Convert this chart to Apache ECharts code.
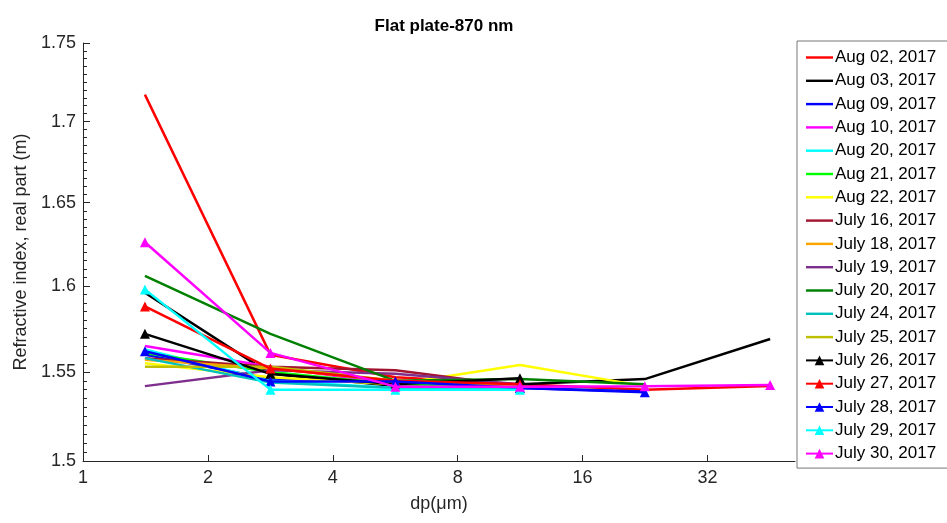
<!DOCTYPE html>
<html><head><meta charset="utf-8">
<script src="https://cdn.jsdelivr.net/npm/echarts@6/dist/echarts.min.js"></script>
<style>html,body{margin:0;padding:0;background:#fff}#c{width:947px;height:523px}</style>
</head><body><div id="c"></div>
<script>
// ---- data ----
const xTicks = [1, 2, 4, 8, 16, 32];
const yTicks = [1.5, 1.55, 1.6, 1.65, 1.7, 1.75];
const dp = [1.41, 2.83, 5.66, 11.3, 22.6, 45.3];

const names = ['Aug 02, 2017','Aug 03, 2017','Aug 09, 2017','Aug 10, 2017','Aug 20, 2017','Aug 21, 2017','Aug 22, 2017',
  'July 16, 2017','July 18, 2017','July 19, 2017','July 20, 2017','July 24, 2017','July 25, 2017',
  'July 26, 2017','July 27, 2017','July 28, 2017','July 29, 2017','July 30, 2017'];
const colors = ['#ff0000','#000000','#0000ff','#ff00ff','#00ffff','#00ff00','#ffff00',
  '#a2142f','#ffa500','#7e2f8e','#008000','#00bfbf','#bfbf00',
  '#000000','#ff0000','#0000ff','#00ffff','#ff00ff'];
const withMarker = [false,false,false,false,false,false,false,false,false,false,false,false,false,true,true,true,true,true];

const aug02  = [1.717, 1.560, 1.547, 1.543, 1.540, 1.542];
const aug03  = [1.596, 1.549, 1.542, 1.543, 1.546, 1.569];
const aug09  = [1.560, 1.546, 1.545, 1.541, 1.539, null];
const aug10  = [1.565, 1.553, 1.543, 1.540, null, null];
const aug20  = [1.563, 1.545, 1.541, 1.540, null, null];
const aug21  = [1.561, 1.550, 1.543, 1.542, null, null];
const aug22  = [1.555, 1.547, 1.543, 1.554, 1.542, null];
const jul16  = [1.558, 1.553, 1.551, 1.542, null, null];
const jul18  = [1.557, 1.552, 1.545, 1.542, null, null];
const jul19  = [1.542, 1.551, 1.549, 1.543, null, null];
const jul20  = [1.606, 1.572, 1.545, 1.546, 1.543, null];
const jul24  = [1.558, 1.544, 1.541, 1.540, null, null];
const jul25  = [1.553, 1.553, 1.545, 1.542, null, null];
const jul26  = [1.572, 1.549, 1.543, 1.5465, null, null];
const jul27  = [1.588, 1.552, 1.545, 1.543, null, null];
const jul28  = [1.562, 1.5446, 1.5446, 1.541, 1.5385, null];
const jul29  = [1.598, 1.540, 1.540, 1.540, null, null];
const jul30  = [1.626, 1.561, 1.5417, 1.5417, 1.5419, 1.5427];
const values = [aug02,aug03,aug09,aug10,aug20,aug21,aug22,jul16,jul18,jul19,jul20,jul24,jul25,jul26,jul27,jul28,jul29,jul30];

// minor tick values on y (every 0.005)
const yMinor = [];
for (let i = 0; i <= 50; i++) yMinor.push(+(1.5 + i * 0.005).toFixed(3));

const FONT = '"Liberation Sans", Arial, Helvetica, sans-serif';
const AX = '#262626';

const series = names.map((n, i) => ({
  name: n,
  type: 'line',
  yAxisIndex: 0,
  data: dp.map((x, k) => values[i][k] == null ? null : [x, values[i][k]]).filter(p => p),
  symbol: withMarker[i] ? 'triangle' : 'none',
  symbolSize: 10,
  showSymbol: withMarker[i],
  itemStyle: { color: colors[i] },
  lineStyle: { color: colors[i], width: 2.5 },
  emphasis: { disabled: true },
  z: 2 + i * 0.01
}));

const legendData = names.map((n, i) => withMarker[i] ? { name: n } : { name: n, icon: 'path://M0,0H100V9H0Z' });

const chart = echarts.init(document.getElementById('c'), null, { renderer: 'canvas' });
chart.setOption({
  animation: false,
  backgroundColor: '#fff',
  title: {
    text: 'Flat plate-870 nm', left: 439, top: 13, textAlign: 'center',
    textStyle: { fontFamily: FONT, fontSize: 17, fontWeight: 'bold', color: '#000' }
  },
  grid: { left: 83, right: 152, top: 43, bottom: 62, containLabel: false },
  legend: {
    orient: 'vertical', left: 797, top: 41,
    padding: [8, 12, 6, 8], itemGap: 6.3, itemWidth: 27, itemHeight: 12,
    symbolKeepAspect: true,
    borderColor: '#777', borderWidth: 1, backgroundColor: '#fff',
    textStyle: { fontFamily: FONT, fontSize: 17, color: '#000', padding: [0, 0, 0, -3], lineHeight: 17 },
    data: legendData
  },
  xAxis: {
    type: 'log', logBase: 2, min: 1, max: 52,
    name: 'dp(μm)', nameLocation: 'middle', nameGap: 34,
    nameTextStyle: { fontFamily: FONT, fontSize: 18, color: AX },
    axisLine: { show: true, lineStyle: { color: AX, width: 1 } },
    axisTick: { show: true, inside: true, length: 6, customValues: xTicks, lineStyle: { color: AX } },
    axisLabel: { customValues: xTicks, fontFamily: FONT, fontSize: 18, color: AX, margin: 8 },
    splitLine: { show: false }
  },
  yAxis: [{
    type: 'log', logBase: 10, min: 1.5, max: 1.75,
    name: 'Refractive index, real part (m)', nameLocation: 'middle', nameGap: 52,
    nameTextStyle: { fontFamily: FONT, fontSize: 18, color: AX },
    axisLine: { show: true, lineStyle: { color: AX, width: 1 } },
    axisTick: { show: true, inside: true, length: 4, customValues: yMinor, lineStyle: { color: AX } },
    axisLabel: { customValues: yTicks, fontFamily: FONT, fontSize: 18, color: AX, margin: 7,
      formatter: v => String(+v.toFixed(2)) },
    splitLine: { show: false }
  }, {
    type: 'log', logBase: 10, min: 1.5, max: 1.75, position: 'left',
    axisLine: { show: false },
    axisTick: { show: true, inside: true, length: 7, customValues: yTicks, lineStyle: { color: AX } },
    axisLabel: { show: false },
    splitLine: { show: false }
  }],
  series: series
});
</script></body></html>
